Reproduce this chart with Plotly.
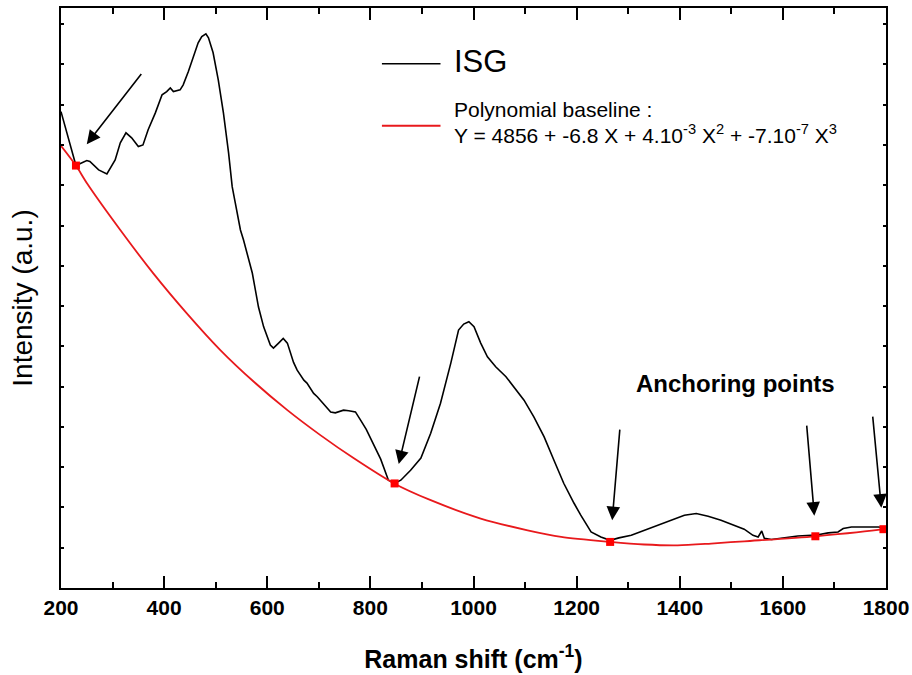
import plotly.graph_objects as go

# ISG Raman spectrum (arbitrary intensity units)
shift = [200, 229, 250, 256, 273, 289, 305, 315, 326, 337, 350, 359, 369, 383, 396,
         405, 412, 418, 431, 437, 447, 457, 466, 473, 481, 486, 495, 505, 515, 525,
         532, 538, 548, 554, 571, 583, 593, 606, 612, 622, 631, 639, 645, 651, 658,
         671, 677, 690, 697, 716, 723, 732, 748, 758, 771, 781, 792, 820, 835, 847,
         859, 878, 898, 917, 936, 956, 971, 981, 991, 1001, 1014, 1027, 1043, 1063,
         1078, 1098, 1117, 1137, 1156, 1175, 1195, 1208, 1228, 1247, 1265, 1282, 1306,
         1331, 1357, 1383, 1409, 1432, 1455, 1480, 1506, 1525, 1542, 1552, 1559, 1564,
         1578, 1603, 1629, 1655, 1663, 1688, 1707, 1717, 1733, 1758, 1785, 1800]
intensity = [2957, 2622, 2653, 2647, 2595, 2570, 2657, 2763, 2825, 2794, 2740, 2750,
             2844, 2949, 3061, 3081, 3104, 3081, 3092, 3123, 3206, 3299, 3384, 3423,
             3440, 3415, 3322, 3154, 2949, 2701, 2491, 2390, 2222, 2160, 1955, 1744,
             1621, 1508, 1489, 1520, 1549, 1520, 1464, 1400, 1352, 1290, 1272, 1208,
             1187, 1116, 1093, 1087, 1104, 1100, 1093, 1042, 985, 800, 669, 649, 669,
             731, 806, 961, 1147, 1396, 1601, 1638, 1653, 1622, 1520, 1435, 1373, 1311,
             1249, 1166, 1062, 938, 793, 650, 526, 452, 348, 317, 296, 311, 327, 358,
             390, 421, 452, 462, 445, 421, 390, 365, 327, 317, 354, 309, 301, 313, 323,
             327, 327, 342, 348, 369, 379, 379, 379, 374]

# polynomial baseline as drawn
base_shift = [200, 229, 251, 315, 379, 444, 509, 574, 639, 703, 768, 846, 917, 1014,
              1105, 1170, 1265, 1331, 1396, 1461, 1525, 1663, 1795, 1800]
base_int = [2745, 2622, 2509, 2222, 1953, 1705, 1477, 1280, 1104, 949, 805, 649, 545,
            431, 358, 317, 286, 270, 265, 276, 290, 321, 365, 368]

# anchoring points
anchor_shift = [229, 847, 1265, 1663, 1795]
anchor_int = [2622, 649, 286, 321, 365]

# arrows: (tip x, tip y, tail x, tail y)
arrows = [(250, 2755, 358, 3200),
          (855, 769, 896, 1321),
          (1269, 421, 1284, 992),
          (1661, 449, 1646, 1017),
          (1791, 498, 1774, 1073)]

FONT = "Arial, Liberation Sans, sans-serif"

fig = go.Figure()
fig.add_trace(go.Scatter(x=shift, y=intensity, mode="lines",
                         line=dict(color="black", width=1.6), name="ISG"))
fig.add_trace(go.Scatter(x=base_shift, y=base_int, mode="lines",
                         line=dict(color="#e8191c", width=1.8, shape="spline", smoothing=0.8),
                         name="Polynomial baseline"))
fig.add_trace(go.Scatter(x=anchor_shift, y=anchor_int, mode="markers",
                         marker=dict(symbol="square", size=8, color="#ff0000"),
                         name="Anchoring points"))

for tx, ty, sx, sy in arrows:
    fig.add_annotation(x=tx, y=ty, ax=sx, ay=sy, xref="x", yref="y", axref="x", ayref="y",
                       text="", showarrow=True, arrowhead=2, arrowsize=1.7,
                       arrowwidth=1.6, arrowcolor="black", standoff=0)

fig.add_annotation(x=1508, y=1272, xref="x", yref="y", text="<b>Anchoring points</b>",
                   showarrow=False, font=dict(family=FONT, size=24, color="black"))

# hand-drawn legend
fig.add_shape(type="line", xref="paper", yref="paper", x0=0.389, x1=0.46, y0=0.904, y1=0.904,
              line=dict(color="black", width=1.6))
fig.add_shape(type="line", xref="paper", yref="paper", x0=0.389, x1=0.46, y0=0.797, y1=0.797,
              line=dict(color="#e8191c", width=1.8))
fig.add_annotation(x=0.474, y=0.907, xref="paper", yref="paper", text="ISG",
                   showarrow=False, xanchor="left", yanchor="middle",
                   font=dict(family=FONT, size=31, color="black"))
fig.add_annotation(x=0.474, y=0.825, xref="paper", yref="paper", text="Polynomial baseline :",
                   showarrow=False, xanchor="left", yanchor="middle",
                   font=dict(family=FONT, size=21, color="black"))
fig.add_annotation(x=0.474, y=0.783, xref="paper", yref="paper",
                   text="Y = 4856 + -6.8 X + 4.10<sup>-3</sup> X<sup>2</sup> + -7.10<sup>-7</sup> X<sup>3</sup>",
                   showarrow=False, xanchor="left", yanchor="middle",
                   font=dict(family=FONT, size=21, color="black"))

fig.update_layout(
    width=912, height=675,
    margin=dict(l=61, r=26, t=8, b=87),
    plot_bgcolor="white", paper_bgcolor="white",
    showlegend=False,
    font=dict(family=FONT, color="black"),
    xaxis=dict(range=[200, 1800], tick0=200, dtick=200, ticks="inside", ticklen=12,
               tickwidth=2, tickcolor="black", showline=True, linewidth=2, linecolor="black",
               mirror="ticks", showgrid=False, zeroline=False, automargin=False,
               tickfont=dict(family=FONT, size=21, weight="bold"),
               minor=dict(dtick=100, ticks="inside", ticklen=6, tickwidth=2, tickcolor="black",
                          showgrid=False),
               title=dict(text="<b>Raman shift (cm<sup>-1</sup>)</b>", standoff=32,
                          font=dict(family=FONT, size=25))),
    yaxis=dict(range=[0, 3600], tick0=0, dtick=250, ticks="inside", ticklen=3, tickwidth=1.5,
               tickcolor="black", showline=True, linewidth=2, linecolor="black",
               mirror="ticks", showgrid=False, zeroline=False, showticklabels=False,
               automargin=False,
               title=dict(text="Intensity (a.u.)", standoff=18, font=dict(family=FONT, size=28))),
)

fig.write_html("out.html", config={"displayModeBar": False},
               post_script="document.body.style.margin='0';document.body.style.overflow='hidden';")
